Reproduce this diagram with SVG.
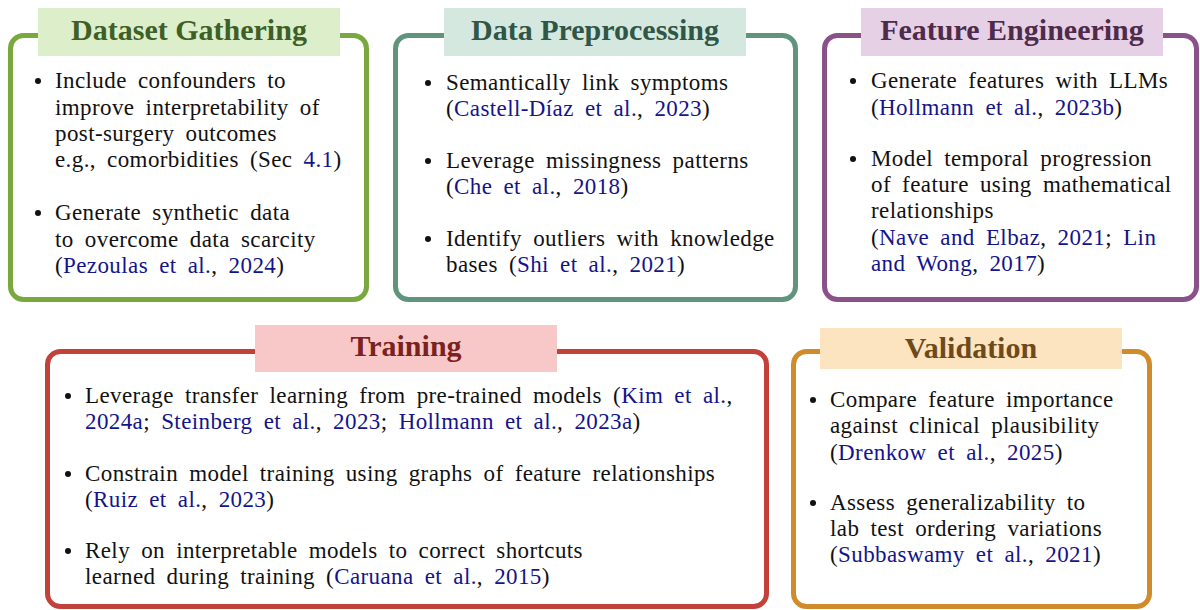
<svg xmlns="http://www.w3.org/2000/svg" width="1200" height="610" viewBox="0 0 1200 610">
  <style>
    .frame { fill: #ffffff; stroke-width: 5; }
    .title { font-family: "Liberation Serif", "Times New Roman", serif; font-weight: bold; font-size: 30px; text-anchor: middle; }
    .body { font-family: "Liberation Serif", "Times New Roman", serif; font-size: 23px; letter-spacing: 0.4px; word-spacing: 5px; fill: #111111; }
    .ref { fill: #14148c; }
    .dot { fill: #111111; }
  </style>
  <rect width="1200" height="610" fill="#ffffff"/>

  <!-- Stage 1 -->
  <g id="dataset-gathering">
    <rect class="frame" x="10.5" y="35.5" width="356" height="264" rx="13" stroke="#7aa83f"/>
    <rect x="38" y="8" width="302" height="48" fill="#dcefca"/>
    <text class="title" x="189" y="40" fill="#3f5f26">Dataset Gathering</text>
    <circle class="dot" cx="38" cy="81" r="3"/>
    <circle class="dot" cx="38" cy="213" r="3"/>
    <text class="body">
      <tspan x="55" y="88">Include confounders to</tspan>
      <tspan x="55" y="115">improve interpretability of</tspan>
      <tspan x="55" y="141">post-surgery outcomes</tspan>
      <tspan x="55" y="167">e.g., comorbidities (Sec <tspan class="ref">4.1</tspan>)</tspan>
      <tspan x="55" y="220">Generate synthetic data</tspan>
      <tspan x="55" y="247">to overcome data scarcity</tspan>
      <tspan x="55" y="273">(<tspan class="ref">Pezoulas et al.</tspan>, <tspan class="ref">2024</tspan>)</tspan>
    </text>
  </g>

  <!-- Stage 2 -->
  <g id="data-preprocessing">
    <rect class="frame" x="395.5" y="35.5" width="400" height="264" rx="13" stroke="#5f957a"/>
    <rect x="444" y="8" width="302" height="48" fill="#d5e8e0"/>
    <text class="title" x="595" y="40" fill="#2f5646">Data Preprocessing</text>
    <circle class="dot" cx="428" cy="83" r="3"/>
    <circle class="dot" cx="428" cy="161" r="3"/>
    <circle class="dot" cx="428" cy="239" r="3"/>
    <text class="body">
      <tspan x="446" y="90">Semantically link symptoms</tspan>
      <tspan x="446" y="116">(<tspan class="ref">Castell-Díaz et al.</tspan>, <tspan class="ref">2023</tspan>)</tspan>
      <tspan x="446" y="168">Leverage missingness patterns</tspan>
      <tspan x="446" y="194">(<tspan class="ref">Che et al.</tspan>, <tspan class="ref">2018</tspan>)</tspan>
      <tspan x="446" y="246">Identify outliers with knowledge</tspan>
      <tspan x="446" y="272">bases (<tspan class="ref">Shi et al.</tspan>, <tspan class="ref">2021</tspan>)</tspan>
    </text>
  </g>

  <!-- Stage 3 -->
  <g id="feature-engineering">
    <rect class="frame" x="824.5" y="35.5" width="372" height="264" rx="13" stroke="#8b5289"/>
    <rect x="861" y="8" width="302" height="48" fill="#e6d0e6"/>
    <text class="title" x="1012" y="40" fill="#4f2b4b">Feature Engineering</text>
    <circle class="dot" cx="853" cy="81" r="3"/>
    <circle class="dot" cx="853" cy="159" r="3"/>
    <text class="body">
      <tspan x="871" y="88">Generate features with LLMs</tspan>
      <tspan x="871" y="115">(<tspan class="ref">Hollmann et al.</tspan>, <tspan class="ref">2023b</tspan>)</tspan>
      <tspan x="871" y="166">Model temporal progression</tspan>
      <tspan x="871" y="192">of feature using mathematical</tspan>
      <tspan x="871" y="218">relationships</tspan>
      <tspan x="871" y="245">(<tspan class="ref">Nave and Elbaz</tspan>, <tspan class="ref">2021</tspan>; <tspan class="ref">Lin</tspan></tspan>
      <tspan x="871" y="271"><tspan class="ref">and Wong</tspan>, <tspan class="ref">2017</tspan>)</tspan>
    </text>
  </g>

  <!-- Stage 4 -->
  <g id="training">
    <rect class="frame" x="47.5" y="351.5" width="719" height="255" rx="13" stroke="#c2413b"/>
    <rect x="255" y="325" width="302" height="47" fill="#f8c8c8"/>
    <text class="title" x="406" y="356" fill="#7a2220">Training</text>
    <circle class="dot" cx="68" cy="396" r="3"/>
    <circle class="dot" cx="68" cy="474" r="3"/>
    <circle class="dot" cx="68" cy="551" r="3"/>
    <text class="body">
      <tspan x="85" y="403">Leverage transfer learning from pre-trained models (<tspan class="ref">Kim et al.</tspan>,</tspan>
      <tspan x="85" y="429"><tspan class="ref">2024a</tspan>; <tspan class="ref">Steinberg et al.</tspan>, <tspan class="ref">2023</tspan>; <tspan class="ref">Hollmann et al.</tspan>, <tspan class="ref">2023a</tspan>)</tspan>
      <tspan x="85" y="481">Constrain model training using graphs of feature relationships</tspan>
      <tspan x="85" y="507">(<tspan class="ref">Ruiz et al.</tspan>, <tspan class="ref">2023</tspan>)</tspan>
      <tspan x="85" y="558">Rely on interpretable models to correct shortcuts</tspan>
      <tspan x="85" y="584">learned during training (<tspan class="ref">Caruana et al.</tspan>, <tspan class="ref">2015</tspan>)</tspan>
    </text>
  </g>

  <!-- Stage 5 -->
  <g id="validation">
    <rect class="frame" x="793.5" y="351.5" width="356" height="255" rx="13" stroke="#d08c2a"/>
    <rect x="820" y="328" width="302" height="41" fill="#fde4c0"/>
    <text class="title" x="971" y="358" fill="#6e4a1b">Validation</text>
    <circle class="dot" cx="813" cy="400" r="3"/>
    <circle class="dot" cx="813" cy="503" r="3"/>
    <text class="body">
      <tspan x="830" y="407">Compare feature importance</tspan>
      <tspan x="830" y="433">against clinical plausibility</tspan>
      <tspan x="830" y="460">(<tspan class="ref">Drenkow et al.</tspan>, <tspan class="ref">2025</tspan>)</tspan>
      <tspan x="830" y="510">Assess generalizability to</tspan>
      <tspan x="830" y="536">lab test ordering variations</tspan>
      <tspan x="830" y="562">(<tspan class="ref">Subbaswamy et al.</tspan>, <tspan class="ref">2021</tspan>)</tspan>
    </text>
  </g>

  <g id="connectors"/>
</svg>
